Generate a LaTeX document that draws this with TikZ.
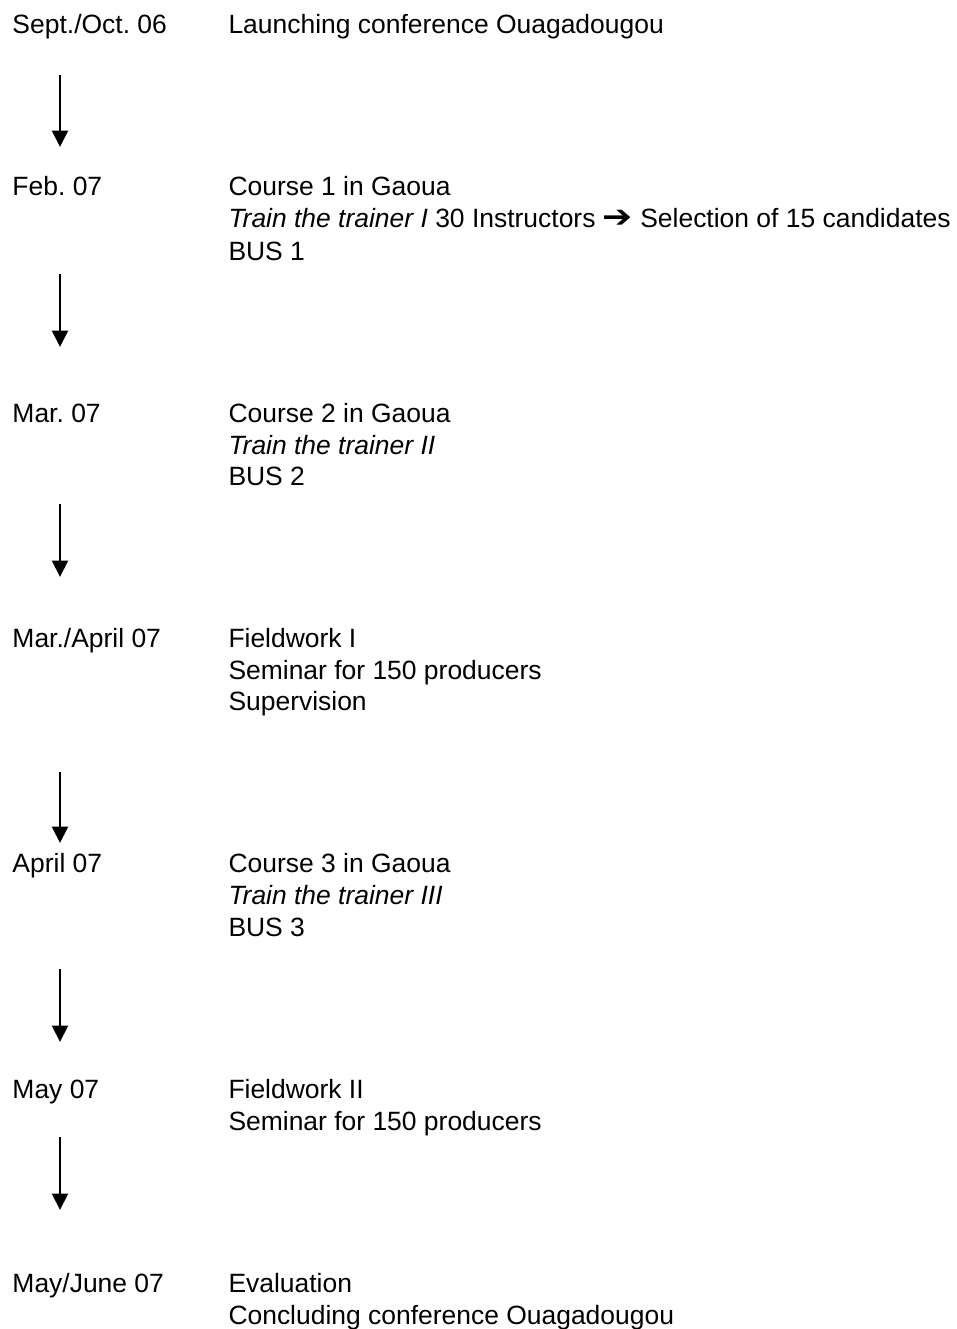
\documentclass[tikz,border=0pt]{standalone}
\usepackage{fontspec}
\setmainfont{Liberation Sans}
\newfontfamily\symfont{DejaVu Sans}
\usepackage{tikz}
\usetikzlibrary{arrows.meta}
\frenchspacing

\tikzset{
    txt/.style = {anchor = base west, inner sep = 0pt,
        font = \fontsize{10.58}{12.8}\selectfont},
    flow/.style = {line width = 0.8pt,
        -{Triangle[width = 6.4pt, length = 6.6pt]}}
}

\begin{document}
\begin{tikzpicture}[x = 0.4pt, y = -0.4pt]
        \useasboundingbox (0, 0) rectangle (956, 1329);

        % dates
        \node[txt] (d1) at (12, 33) {Sept./Oct. 06};
        \node[txt] (d2) at (12, 195) {Feb. 07};
        \node[txt] (d3) at (12, 422) {Mar. 07};
        \node[txt] (d4) at (12, 647) {Mar./April 07};
        \node[txt] (d5) at (12, 872) {April 07};
        \node[txt] (d6) at (12, 1098) {May 07};
        \node[txt] (d7) at (12, 1292) {May/June 07};

        % events
        \node[txt] (e1) at (228, 33) {Launching conference Ouagadougou};
        \node[txt] (e2a) at (228, 195) {Course 1 in Gaoua};
        \node[txt] (e2b) at (228, 227) {\textit{Train the trainer I} 30 Instructors
            {\symfont\fontsize{12.5}{12.8}\selectfont\scalebox{1.15}[1]{➔}} Selection of 15 candidates};
        \node[txt] (e2c) at (228, 260) {BUS 1};
        \node[txt] (e3a) at (228, 422) {Course 2 in Gaoua};
        \node[txt] (e3b) at (228, 454) {\textit{Train the trainer II}};
        \node[txt] (e3c) at (228, 485) {BUS 2};
        \node[txt] (e4a) at (228, 647) {Fieldwork I};
        \node[txt] (e4b) at (228, 679) {Seminar for 150 producers};
        \node[txt] (e4c) at (228, 710) {Supervision};
        \node[txt] (e5a) at (228, 872) {Course 3 in Gaoua};
        \node[txt] (e5b) at (228, 904) {\textit{Train the trainer III}};
        \node[txt] (e5c) at (228, 936) {BUS 3};
        \node[txt] (e6a) at (228, 1098) {Fieldwork II};
        \node[txt] (e6b) at (228, 1130) {Seminar for 150 producers};
        \node[txt] (e7a) at (228, 1292) {Evaluation};
        \node[txt] (e7b) at (228, 1324) {Concluding conference Ouagadougou};

        % arrows
        \coordinate (s1) at (60, 75);    \coordinate (t1) at (60, 147);
        \coordinate (s2) at (60, 274);   \coordinate (t2) at (60, 347);
        \coordinate (s3) at (60, 504);   \coordinate (t3) at (60, 577);
        \coordinate (s4) at (60, 772);   \coordinate (t4) at (60, 843);
        \coordinate (s5) at (60, 969);   \coordinate (t5) at (60, 1042);
        \coordinate (s6) at (60, 1137);  \coordinate (t6) at (60, 1210);
        \draw[flow] (s1) -- (t1);
        \draw[flow] (s2) -- (t2);
        \draw[flow] (s3) -- (t3);
        \draw[flow] (s4) -- (t4);
        \draw[flow] (s5) -- (t5);
        \draw[flow] (s6) -- (t6);
    \end{tikzpicture}
\end{document}
